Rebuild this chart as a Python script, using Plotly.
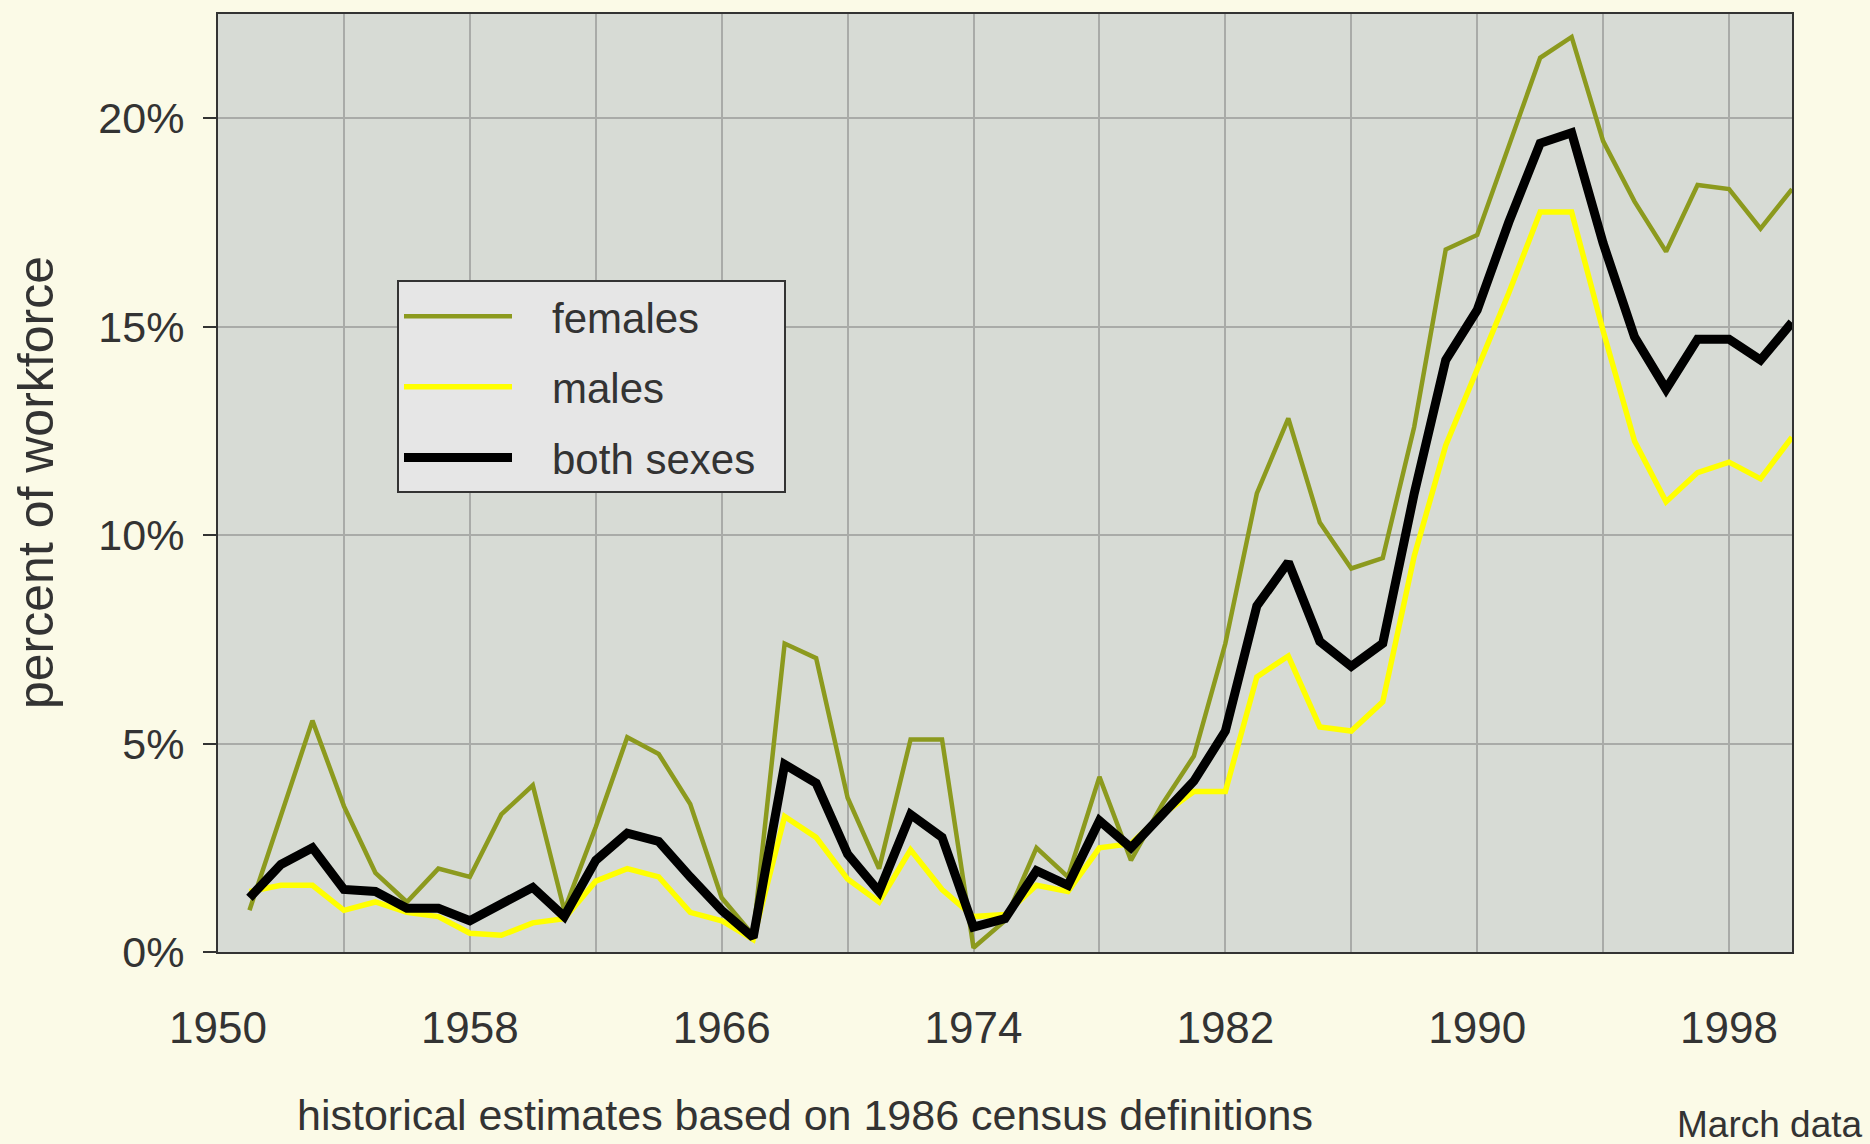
import plotly.graph_objects as go

years = list(range(1951, 2001))

females = [1.0, 3.3, 5.55, 3.5, 1.9, 1.2, 2.0, 1.8, 3.3, 4.0,
           1.0, 3.0, 5.15, 4.75, 3.55, 1.3, 0.4, 7.4, 7.05, 3.7,
           2.0, 5.1, 5.1, 0.1, 0.75, 2.5, 1.8, 4.2, 2.2, 3.55,
           4.7, 7.4, 11.0, 12.8, 10.3, 9.2, 9.45, 12.6, 16.85, 17.2,
           19.3, 21.45, 21.95, 19.45, 18.0, 16.8, 18.4, 18.3, 17.35, 18.3]

males = [1.45, 1.6, 1.6, 1.0, 1.2, 0.95, 0.85, 0.45, 0.4, 0.7,
         0.8, 1.7, 2.0, 1.8, 0.95, 0.75, 0.3, 3.25, 2.75, 1.75,
         1.2, 2.45, 1.5, 0.85, 0.9, 1.6, 1.45, 2.5, 2.6, 3.3,
         3.85, 3.85, 6.6, 7.1, 5.4, 5.3, 6.0, 9.5, 12.15, 14.0,
         15.8, 17.75, 17.75, 14.9, 12.25, 10.8, 11.5, 11.75, 11.35, 12.35]

both = [1.3, 2.1, 2.5, 1.5, 1.45, 1.05, 1.05, 0.75, 1.15, 1.55,
        0.85, 2.2, 2.85, 2.65, 1.8, 1.0, 0.35, 4.5, 4.05, 2.35,
        1.45, 3.3, 2.75, 0.6, 0.8, 1.95, 1.6, 3.15, 2.5, 3.3,
        4.1, 5.3, 8.3, 9.35, 7.45, 6.85, 7.4, 11.0, 14.2, 15.4,
        17.5, 19.4, 19.65, 17.0, 14.75, 13.5, 14.7, 14.7, 14.2, 15.1]

series_names = ["females", "males", "both sexes"]

x_grid = list(range(1950, 2000, 4))
x_labels = [str(y) if (y - 1950) % 8 == 0 else "" for y in x_grid]
y_ticks = [0, 5, 10, 15, 20]
y_labels = [f"{v}%" for v in y_ticks]

FONT = "Liberation Sans, Arial, sans-serif"
TXT = "#333333"
PAGE = "#FBFAE7"

# plot area in pixels
L, R, T, B = 218, 1792, 12, 952
PW, PH = R - L, B - T


def pad(name):
    return "   " + name + "  "


fig = go.Figure()
fig.add_trace(go.Scatter(x=years, y=females, mode="lines", name=pad(series_names[0]),
                         legendgroup="f", line=dict(color="#8C9A1E", width=4.5)))
fig.add_trace(go.Scatter(x=years, y=males, mode="lines", name=pad(series_names[1]),
                         legendgroup="m", line=dict(color="#FFFF00", width=5.5)))
fig.add_trace(go.Scatter(x=years, y=both, mode="lines", name=pad(series_names[2]),
                         legendgroup="b", line=dict(color="#000000", width=9)))

fig.update_layout(
    width=1870, height=1144,
    margin=dict(l=L, r=1870 - R, t=T, b=1144 - B),
    paper_bgcolor=PAGE,
    plot_bgcolor="#D7DBD5",
    font=dict(family=FONT, color=TXT, size=40),
    showlegend=True,
    legend=dict(
        x=(397 - L) / PW, y=(B - 279) / PH, xanchor="left", yanchor="top",
        bgcolor="#E6E6E6", bordercolor="#333333", borderwidth=2,
        font=dict(size=42, color=TXT, family=FONT),
        tracegroupgap=13, traceorder="grouped",
        itemwidth=108,
    ),
    annotations=[
        dict(text="percent of workforce", textangle=-90, x=-(L - 36) / PW, y=0.5,
             xref="paper", yref="paper", showarrow=False,
             font=dict(size=50, color=TXT, family=FONT),
             xanchor="center", yanchor="middle"),
        dict(text="historical estimates based on 1986 census definitions",
             x=(805 - L) / PW, y=-(1115 - B) / PH,
             xref="paper", yref="paper", showarrow=False,
             font=dict(size=43, color=TXT, family=FONT),
             xanchor="center", yanchor="middle"),
        dict(text="March data",
             x=(1865 - L) / PW, y=-(1125 - B) / PH,
             xref="paper", yref="paper", showarrow=False,
             font=dict(size=37, color=TXT, family=FONT),
             xanchor="right", yanchor="middle"),
    ],
)

fig.update_xaxes(
    range=[1950, 2000], tickvals=x_grid, ticktext=x_labels,
    showgrid=True, gridcolor="#A9ABA8", gridwidth=2,
    showline=True, linecolor="#333333", linewidth=2, mirror=True,
    ticks="", ticklabelstandoff=36,
    tickfont=dict(size=44, color=TXT, family=FONT),
    zeroline=False,
)
fig.update_yaxes(
    range=[0, 22.5], tickvals=y_ticks, ticktext=y_labels,
    showgrid=True, gridcolor="#A9ABA8", gridwidth=2,
    showline=True, linecolor="#333333", linewidth=2, mirror=True,
    ticks="outside", ticklen=13, tickwidth=2, tickcolor="#333333",
    ticklabelstandoff=10,
    tickfont=dict(size=43, color=TXT, family=FONT),
    zeroline=False,
)

fig.write_html(
    "out.html",
    config={"displayModeBar": False},
    post_script="document.body.style.margin='0px';document.body.style.background='%s';" % PAGE,
)
